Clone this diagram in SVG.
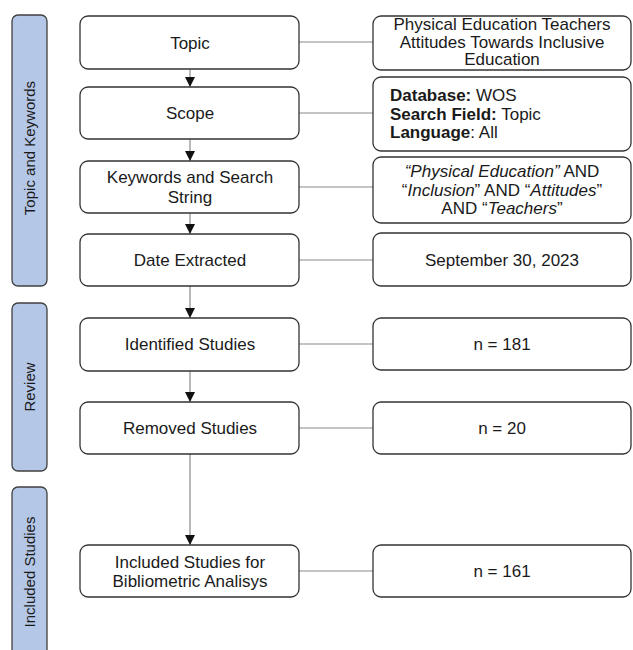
<svg xmlns="http://www.w3.org/2000/svg" width="633" height="650" viewBox="0 0 633 650">
<style>
text{font-family:"Liberation Sans",Arial,sans-serif;font-size:17px;fill:#1a1a1a}
.c{text-anchor:middle}
.v{font-size:15px}
.box{fill:#fff;stroke:#333;stroke-width:1.3}
.bar{fill:#b4c7e7;stroke:#404040;stroke-width:1.3}
.ln{stroke:#8a8a8a;stroke-width:1.2;fill:none}
.b{font-weight:bold}
.i{font-style:italic}
</style>
<defs>
<marker id="ah" viewBox="0 0 10 10" refX="10" refY="5" markerWidth="10" markerHeight="10" markerUnits="userSpaceOnUse" orient="auto">
<path d="M0,0 L10,5 L0,10 z" fill="#111"/>
</marker>
</defs>
<rect width="633" height="650" fill="#fff"/>
<g id="bar-topic"><rect class="bar" x="12" y="15" width="35" height="271" rx="6"/><text class="c v" transform="translate(35,148) rotate(-90)">Topic and Keywords</text></g>
<g id="bar-review"><rect class="bar" x="12" y="303" width="35" height="168" rx="6"/><text class="c v" transform="translate(35,387) rotate(-90)">Review</text></g>
<g id="bar-included"><rect class="bar" x="12" y="487" width="35" height="175" rx="6"/><text class="c v" transform="translate(35,572) rotate(-90)">Included Studies</text></g>
<g id="connectors">
<line class="ln" x1="190" y1="69" x2="190" y2="87" marker-end="url(#ah)"/>
<line class="ln" x1="190" y1="139" x2="190" y2="161" marker-end="url(#ah)"/>
<line class="ln" x1="190" y1="213" x2="190" y2="234" marker-end="url(#ah)"/>
<line class="ln" x1="190" y1="286" x2="190" y2="318" marker-end="url(#ah)"/>
<line class="ln" x1="190" y1="371" x2="190" y2="402" marker-end="url(#ah)"/>
<line class="ln" x1="190" y1="454" x2="190" y2="545" marker-end="url(#ah)"/>
<line class="ln" x1="299" y1="42" x2="373" y2="42"/>
<line class="ln" x1="299" y1="113" x2="373" y2="113"/>
<line class="ln" x1="299" y1="187" x2="373" y2="187"/>
<line class="ln" x1="299" y1="260" x2="373" y2="260"/>
<line class="ln" x1="299" y1="344" x2="373" y2="344"/>
<line class="ln" x1="299" y1="428" x2="373" y2="428"/>
<line class="ln" x1="299" y1="571" x2="373" y2="571"/>
</g>
<g id="topic"><rect class="box" x="80" y="16" width="219" height="53" rx="8"/><text class="c" x="190" y="48.5">Topic</text></g>
<g id="scope"><rect class="box" x="80" y="87" width="219" height="52" rx="8"/><text class="c" x="190" y="119">Scope</text></g>
<g id="keywords"><rect class="box" x="80" y="161" width="219" height="52" rx="8"/><text class="c" x="190" y="183">Keywords and Search</text><text class="c" x="190" y="203">String</text></g>
<g id="date"><rect class="box" x="80" y="234" width="219" height="52" rx="8"/><text class="c" x="190" y="266">Date Extracted</text></g>
<g id="identified"><rect class="box" x="80" y="318" width="219" height="53" rx="8"/><text class="c" x="190" y="350">Identified Studies</text></g>
<g id="removed"><rect class="box" x="80" y="402" width="219" height="52" rx="8"/><text class="c" x="190" y="434">Removed Studies</text></g>
<g id="included"><rect class="box" x="80" y="545" width="219" height="52" rx="8"/><text class="c" x="190" y="568">Included Studies for</text><text class="c" x="190" y="587">Bibliometric Analisys</text></g>
<g id="topic-detail"><rect class="box" x="373" y="16" width="258" height="54" rx="8"/><text class="c" x="502" y="30">Physical Education Teachers</text><text class="c" x="502" y="47.5">Attitudes Towards Inclusive</text><text class="c" x="502" y="65">Education</text></g>
<g id="scope-detail"><rect class="box" x="373" y="77" width="258" height="74" rx="8"/><text x="390" y="101"><tspan class="b">Database:</tspan> WOS</text><text x="390" y="119.5"><tspan class="b">Search Field:</tspan> Topic</text><text x="390" y="138"><tspan class="b">Language</tspan>: All</text></g>
<g id="keywords-detail"><rect class="box" x="373" y="157" width="258" height="66" rx="8"/><text class="c" x="502" y="177"><tspan class="i">“Physical Education”</tspan> AND</text><text class="c" x="502" y="196">“<tspan class="i">Inclusion</tspan>” AND “<tspan class="i">Attitudes</tspan>”</text><text class="c" x="502" y="214">AND “<tspan class="i">Teachers</tspan>”</text></g>
<g id="date-detail"><rect class="box" x="373" y="233" width="258" height="53" rx="8"/><text class="c" x="502" y="266">September 30, 2023</text></g>
<g id="n181"><rect class="box" x="373" y="318" width="258" height="52" rx="8"/><text class="c" x="502" y="350">n = 181</text></g>
<g id="n20"><rect class="box" x="373" y="402" width="258" height="52" rx="8"/><text class="c" x="502" y="434">n = 20</text></g>
<g id="n161"><rect class="box" x="373" y="545" width="258" height="52" rx="8"/><text class="c" x="502" y="577">n = 161</text></g>
</svg>
